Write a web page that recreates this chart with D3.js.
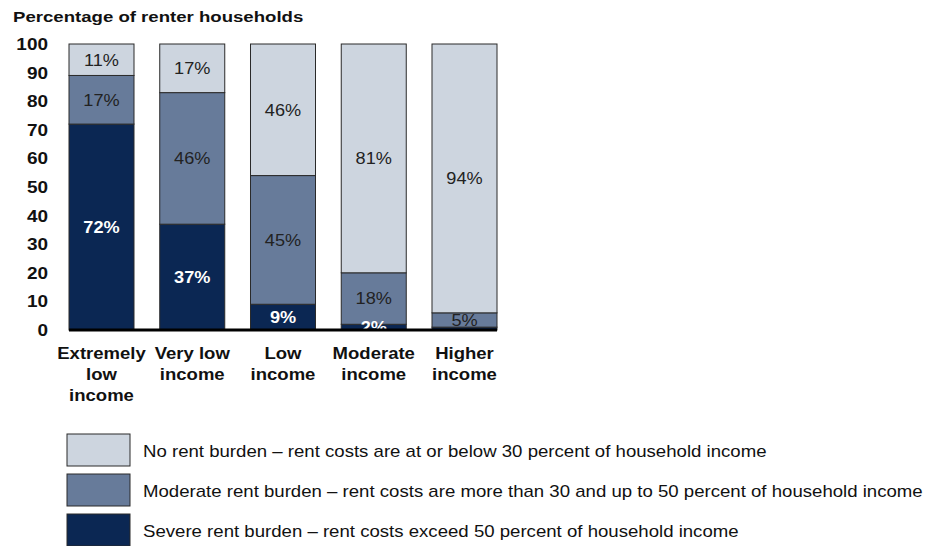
<!DOCTYPE html>
<html><head><meta charset="utf-8">
<script src="https://cdn.jsdelivr.net/npm/d3@7"></script>
<style>body{margin:0;background:#fff;}svg{display:block;font-family:"Liberation Sans",Arial,sans-serif;}</style>
</head><body><svg id="c" width="935" height="546"></svg>
<script>
const categories = ["Extremely low income","Very low income","Low income","Moderate income","Higher income"];
const categoryLines = [["Extremely","low","income"],["Very low","income"],["Low","income"],["Moderate","income"],["Higher","income"]];
const severe = [72, 37, 9, 2, 1];
const moderate = [17, 46, 45, 18, 5];
const none = [11, 17, 46, 80, 94];
const severeLabels = ["72%","37%","9%","2%",""];
const moderateLabels = ["17%","46%","45%","18%","5%"];
const noneLabels = ["11%","17%","46%","81%","94%"];
const yTicks = [0,10,20,30,40,50,60,70,80,90,100];
const seriesNames = ["No rent burden – rent costs are at or below 30 percent of household income",
  "Moderate rent burden – rent costs are more than 30 and up to 50 percent of household income",
  "Severe rent burden – rent costs exceed 50 percent of household income"];

const colors = {severe:"#0b2753", moderate:"#677b9a", none:"#cdd5df"};
const svg = d3.select("#c");
const x = d3.scaleBand().domain(categories).range([69, 497]).paddingInner(0.2837).paddingOuter(0);
const y = d3.scaleLinear().domain([0,100]).range([330, 44]);

// helper: horizontally stretched text
function stext(parent, px, py, sx, txt, opts){
  const gg = parent.append("g").attr("transform",`translate(${px},${py}) scale(${sx},1)`);
  const t = gg.append("text").attr("x",0).attr("y",0).text(txt);
  Object.entries(opts).forEach(([k,v])=>t.attr(k,v));
  return t;
}

stext(svg, 13, 22, 1.2, "Percentage of renter households", {"font-size":15.5,"font-weight":"bold","fill":"#111"});

// y axis (ticks via scale)
const ya = svg.append("g");
yTicks.forEach(v=>{
  stext(ya, 48, y(v), 1.15, d3.format("d")(v), {"font-size":16.5,"font-weight":"bold","fill":"#111","text-anchor":"end","dy":"0.36em"});
});

const data = categories.map((c,i)=>({cat:c, i, segs:[
  {key:"severe", v0:0, v1:severe[i], label:severeLabels[i]},
  {key:"moderate", v0:severe[i], v1:severe[i]+moderate[i], label:moderateLabels[i]},
  {key:"none", v0:severe[i]+moderate[i], v1:severe[i]+moderate[i]+none[i], label:noneLabels[i]}
]}));

const g = svg.append("g");
data.forEach(d=>{
  d.segs.forEach(s=>{
    g.append("rect").attr("x",x(d.cat)).attr("width",x.bandwidth())
      .attr("y",y(s.v1)).attr("height",y(s.v0)-y(s.v1))
      .attr("fill",colors[s.key]).attr("stroke","#2a2a2a").attr("stroke-width",1);
  });
});
data.forEach(d=>{
  d.segs.forEach(s=>{
    if(!s.label) return;
    const sev = s.key==="severe";
    stext(g, x(d.cat)+x.bandwidth()/2, y((s.v0+s.v1)/2), 1.1, s.label,
      {"dy":"0.36em","text-anchor":"middle","font-size":16.5,"font-weight":sev?"bold":"normal","fill":sev?"#fff":"#222"});
  });
});
// baseline
svg.append("line").attr("x1",x(categories[0])).attr("x2",x(categories[4])+x.bandwidth())
  .attr("y1",y(0)).attr("y2",y(0)).attr("stroke","#000").attr("stroke-width",3);

// x labels
categories.forEach((c,i)=>{
  categoryLines[i].forEach((ln,j)=>{
    stext(svg, x(c)+x.bandwidth()/2, 359+j*21, 1.09, ln, {"text-anchor":"middle","font-size":17,"font-weight":"bold","fill":"#111"});
  });
});

// legend
const lg = ["none","moderate","severe"];
lg.forEach((k,i)=>{
  svg.append("rect").attr("x",67).attr("y",434+i*40).attr("width",63).attr("height",32)
    .attr("fill",colors[k]).attr("stroke","#2a2a2a").attr("stroke-width",1);
  stext(svg, 143, 451+i*40, 1.095, seriesNames[i], {"dy":"0.35em","font-size":17,"fill":"#111"});
});
</script></body></html>
